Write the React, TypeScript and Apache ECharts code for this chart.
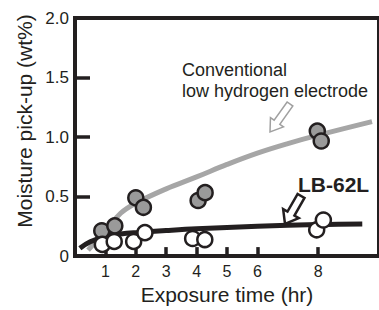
import React, { useEffect, useRef } from "react";
import * as echarts from "echarts";

const xTickValues = [1, 2, 3, 4, 5, 6, 8];
const yTickValues = [0.5, 1.0, 1.5];
const yLabelValues = [0, 0.5, 1.0, 1.5, 2.0];

const conventionalPoints: [number, number][] = [
  [0.88, 0.213], [1.31, 0.254], [2.0, 0.49], [2.25, 0.41],
  [4.05, 0.467], [4.28, 0.533], [7.97, 1.05], [8.1, 0.967],
];
const lb62lPoints: [number, number][] = [
  [0.9, 0.098], [1.29, 0.123], [1.93, 0.123], [2.3, 0.197],
  [3.87, 0.148], [4.27, 0.139], [7.95, 0.221], [8.17, 0.303],
];
const conventionalCurve: [number, number][] = [
  [0.43, 0.05], [1, 0.21], [1.5, 0.36], [2, 0.445], [3, 0.565], [4, 0.665],
  [5, 0.77], [6, 0.865], [7, 0.945], [8, 1.016], [9.77, 1.13],
];
const lb62lCurve: [number, number][] = [
  [0.16, 0.065], [0.5, 0.12], [1, 0.165], [1.5, 0.185], [2, 0.197], [3, 0.215],
  [4, 0.23], [6, 0.25], [8, 0.265], [9.45, 0.27],
];

const DARK = "#231f20";
const FONT = "'Liberation Sans', Arial, Helvetica, sans-serif";

function arrowPoints(tail: [number, number], tip: [number, number], sw: number, hw: number, hl: number) {
  const dx = tip[0] - tail[0];
  const dy = tip[1] - tail[1];
  const len = Math.sqrt(dx * dx + dy * dy);
  const ux = dx / len, uy = dy / len;
  const px = -uy, py = ux;
  const bx = tip[0] - ux * hl, by = tip[1] - uy * hl;
  return [
    [tail[0] + px * sw, tail[1] + py * sw],
    [bx + px * sw, by + py * sw],
    [bx + px * hw, by + py * hw],
    [tip[0], tip[1]],
    [bx - px * hw, by - py * hw],
    [bx - px * sw, by - py * sw],
    [tail[0] - px * sw, tail[1] - py * sw],
  ];
}

export default function App() {
  const ref = useRef<HTMLDivElement>(null);
  useEffect(() => {
    if (!ref.current) return;
    const chart = echarts.init(ref.current, undefined, { renderer: "svg" });
    chart.setOption({
      animation: false,
      grid: {
        left: 75, right: -1, top: 18, bottom: 49,
        show: true, borderColor: DARK, borderWidth: 4, backgroundColor: "transparent",
      },
      xAxis: {
        type: "value", min: 0, max: 10,
        name: "Exposure time (hr)", nameLocation: "middle", nameGap: 22,
        nameTextStyle: { fontFamily: FONT, fontSize: 21, color: DARK },
        axisLine: { show: false },
        splitLine: { show: false },
        axisTick: {
          show: true, inside: true, length: 9, customValues: xTickValues,
          lineStyle: { color: DARK, width: 3.5 },
        },
        axisLabel: {
          customValues: xTickValues, margin: 7,
          fontFamily: FONT, fontSize: 16, color: DARK,
        },
      },
      yAxis: {
        type: "value", min: 0, max: 2,
        axisLine: { show: false },
        splitLine: { show: false },
        axisTick: {
          show: true, inside: true, length: 15, customValues: yTickValues,
          lineStyle: { color: DARK, width: 3.5 },
        },
        axisLabel: {
          customValues: yLabelValues, margin: 6,
          fontFamily: FONT, fontSize: 17, color: DARK,
          formatter: (v: number) => (v === 0 ? "0" : v.toFixed(1)),
        },
      },
      series: [
        {
          type: "line", data: conventionalCurve, smooth: 0.4, showSymbol: false,
          lineStyle: { color: "#a6a6a6", width: 5 }, z: 2,
        },
        {
          type: "line", data: lb62lCurve, smooth: 0.4, showSymbol: false,
          lineStyle: { color: DARK, width: 5 }, z: 2,
        },
        {
          type: "scatter", data: conventionalPoints, symbolSize: 15, z: 3,
          itemStyle: { color: "#9a9a9a", borderColor: DARK, borderWidth: 2.5, opacity: 1 },
        },
        {
          type: "scatter", data: lb62lPoints, symbolSize: 15, z: 3,
          itemStyle: { color: "#ffffff", borderColor: DARK, borderWidth: 2.5, opacity: 1 },
        },
      ],
      graphic: [
        {
          type: "text", x: 24, y: 121, rotation: Math.PI / 2,
          style: {
            text: "Moisture pick-up (wt%)", fontFamily: FONT, fontSize: 21, fill: DARK,
            align: "center", verticalAlign: "middle",
          },
        },
        {
          type: "text", x: 182, y: 70,
          style: {
            text: "Conventional", fontFamily: FONT, fontSize: 18,
            fill: DARK, align: "left", verticalAlign: "middle",
          },
        },
        {
          type: "text", x: 182, y: 90.5,
          style: {
            text: "low hydrogen electrode", fontFamily: FONT, fontSize: 18,
            fill: DARK, align: "left", verticalAlign: "middle",
          },
        },
        {
          type: "text", x: 298, y: 174,
          style: {
            text: "LB-62L", fontFamily: FONT, fontSize: 21, fontWeight: "bold",
            fill: DARK, align: "left", verticalAlign: "top",
          },
        },
        {
          type: "polygon", z: 10,
          shape: { points: arrowPoints([290, 104], [270, 132], 3.5, 8, 12) },
          style: { fill: "#ffffff", stroke: "#a0a0a0", lineWidth: 1.5 },
        },
        {
          type: "polygon", z: 10,
          shape: { points: arrowPoints([301, 196], [285, 224], 4, 9, 12) },
          style: { fill: "#ffffff", stroke: DARK, lineWidth: 2.5 },
        },
      ],
    });
    return () => chart.dispose();
  }, []);
  return <div ref={ref} style={{ width: 379, height: 310, position: "absolute", left: 0, top: 0 }} />;
}
